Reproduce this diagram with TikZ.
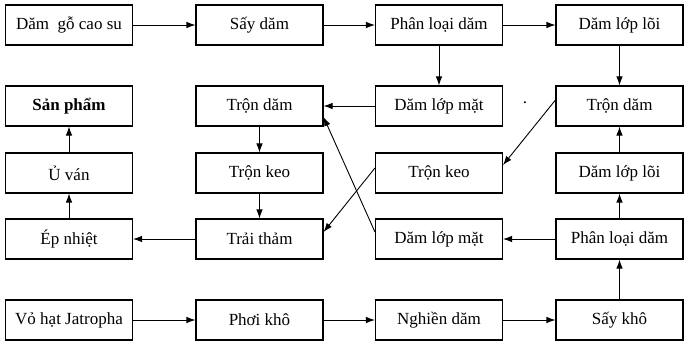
\documentclass[tikz,border=0pt]{standalone}
\usepackage{fontspec}
\setmainfont{Liberation Serif}
\usetikzlibrary{arrows.meta}
\tikzset{
  stage/.style={draw, line width=1.1pt, minimum width=127pt, minimum height=40pt,
    inner sep=1pt, font=\fontsize{17}{20}\selectfont},
  flow/.style={line width=0.9pt, -{Latex[length=9pt,width=6.5pt]}},
}
\begin{document}
\begin{tikzpicture}[x=1pt,y=-1pt]
\useasboundingbox (0,0) rectangle (687,341);
% row 1: rubber wood chips
\node[stage] (go)   at (69,25)    {Dăm\ \ gỗ cao su};
\node[stage] (say)  at (259.5,25) {Sấy dăm};
\node[stage] (pl1)  at (439,25)   {Phân loại dăm};
\node[stage] (loi1) at (619.5,25) {Dăm lớp lõi};
% row 2
\node[stage, font=\fontsize{17}{20}\selectfont\bfseries] (sp) at (69,106) {Sản phẩm};
\node[stage] (tron2) at (259.5,106) {Trộn dăm};
\node[stage] (mat1)  at (439,106)   {Dăm lớp mặt};
\node[stage] (tron4) at (619.5,106) {Trộn dăm};
\node[font=\fontsize{17}{20}\selectfont, inner sep=0pt] (dot) at (525,103) {.};
% row 3
\node[stage] (uvan)  at (69,173)    {Ủ ván};
\node[stage] (keo2)  at (259.5,173) {Trộn keo};
\node[stage] (keo3)  at (439,173)   {Trộn keo};
\node[stage] (loi2)  at (619.5,173) {Dăm lớp lõi};
% row 4
\node[stage] (ep)    at (69,239)    {Ép nhiệt};
\node[stage] (trai)  at (259.5,239) {Trải thảm};
\node[stage] (mat2)  at (439,239)   {Dăm lớp mặt};
\node[stage] (pl2)   at (619.5,239) {Phân loại dăm};
% row 5: Jatropha seed husks
\node[stage] (vo)    at (69,320)    {Vỏ hạt Jatropha};
\node[stage] (phoi)  at (259.5,320) {Phơi khô};
\node[stage] (nghien) at (439,320)  {Nghiền dăm};
\node[stage] (saykho) at (619.5,320) {Sấy khô};

% rubber wood line
\draw[flow] (go) -- (say);
\draw[flow] (say) -- (pl1);
\draw[flow] (pl1) -- (loi1);
\draw[flow] (pl1) -- (mat1);
\draw[flow] (loi1) -- (tron4);
\draw[flow] (mat1) -- (tron2);
% Jatropha line
\draw[flow] (vo) -- (phoi);
\draw[flow] (phoi) -- (nghien);
\draw[flow] (nghien) -- (saykho);
\draw[flow] (saykho) -- (pl2);
\draw[flow] (pl2) -- (loi2);
\draw[flow] (loi2) -- (tron4);
\draw[flow] (pl2) -- (mat2);
% crossing links
\draw[flow] ([yshift=6pt]tron4.west) -- ([yshift=8pt]keo3.east);
\draw[flow] ([yshift=5pt]keo3.west) -- ([yshift=7pt]trai.east);
\draw[flow] ([yshift=7pt]mat2.west) -- ([yshift=-11pt]tron2.east);
% board forming
\draw[flow] (tron2) -- (keo2);
\draw[flow] (keo2) -- (trai);
\draw[flow] (trai) -- (ep);
\draw[flow] (ep) -- (uvan);
\draw[flow] (uvan) -- (sp);
\end{tikzpicture}
\end{document}
